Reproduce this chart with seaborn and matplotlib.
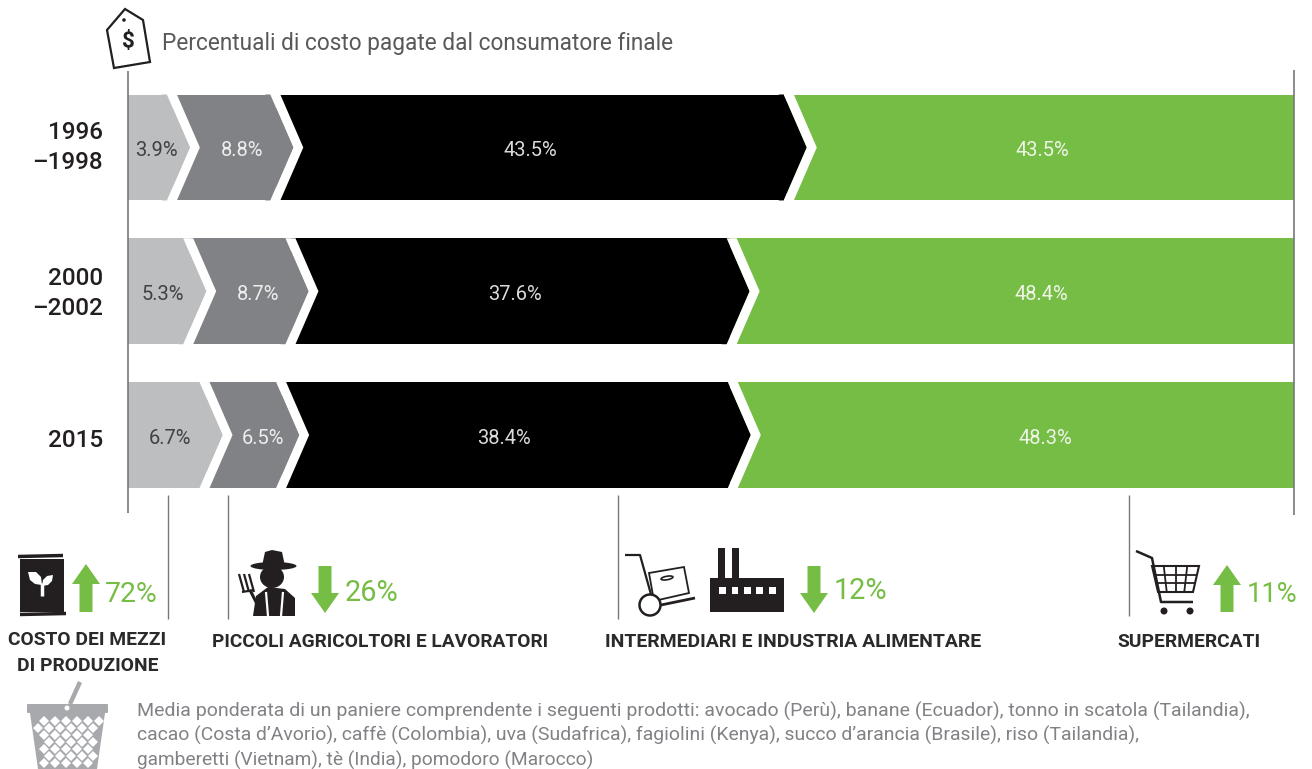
import numpy as np
import matplotlib
matplotlib.use("Agg")
import matplotlib.pyplot as plt
from matplotlib.patches import Polygon, Rectangle, Circle, Ellipse, FancyBboxPatch
import seaborn as sns

periods = ["1996\n–1998", "2000\n–2002", "2015"]
mezzi = [3.9, 5.3, 6.7]
agricoltori = [8.8, 8.7, 6.5]
intermediari = [43.5, 37.6, 38.4]
supermercati = [43.5, 48.4, 48.3]

title = "Percentuali di costo pagate dal consumatore finale"
changes = ["72%", "26%", "12%", "11%"]
note_lines = [
    "Media ponderata di un paniere comprendente i seguenti prodotti: avocado (Perù), banane (Ecuador), tonno in scatola (Tailandia),",
    "cacao (Costa d’Avorio), caffè (Colombia), uva (Sudafrica), fagiolini (Kenya), succo d’arancia (Brasile), riso (Tailandia),",
    "gamberetti (Vietnam), tè (India), pomodoro (Marocco)",
]

C_LIGHT, C_MID, C_BLACK, C_GREEN = "#bcbec0", "#808285", "#000000", "#76bd45"
C_AXIS, C_INK = "#77787b", "#231f20"

sns.set_theme(style="white")
plt.rcParams["font.family"] = ["Roboto", "DejaVu Sans"]

W, H = 1312, 769
fig = plt.figure(figsize=(W / 100, H / 100), dpi=100, facecolor="white")

# main bars
AL, AR, AT, AB = 128, 1294, 75.6, 506.9
ax = fig.add_axes([AL / W, 1 - AB / H, (AR - AL) / W, (AB - AT) / H])
series = [mezzi, agricoltori, intermediari, supermercati]
colors = [C_LIGHT, C_MID, C_BLACK, C_GREEN]
BAR_W = 0.737
m, a, i_, s = (np.array(v) for v in series)
starts = [np.zeros(3), m, m + a, 100 - s]  # the green segment runs to the right edge
for vals, left, col in zip(series, starts, colors):
    sns.barplot(x=vals, y=periods, left=left, color=col, saturation=1, width=BAR_W,
                orient="h", ax=ax, linewidth=0, zorder=2)
ax.set_xlim(0, 100)
ax.set_ylim(2.5, -0.5)
ax.axis("off")

# chevron boundaries
px = 100 / (AR - AL)
gap, depth = 5 * px, 23 * px
bounds = [m - 1.6 * px, m + a - 0.8 * px, 100 - s + 2 * px]
for k, b in enumerate(bounds):
    for r in range(3):
        t, bt, mid = r - BAR_W / 2, r + BAR_W / 2, float(r)
        x = b[r]
        ax.add_patch(Polygon([(x - gap - 5 * px, t), (x - gap, t), (x - gap + depth, mid), (x - gap, bt),
                              (x - gap - 5 * px, bt)],
                             closed=True, fc=colors[k], ec="none", zorder=3))
        ax.add_patch(Polygon([(x - gap, t), (x + gap, t), (x + gap + depth, mid), (x + gap, bt),
                              (x - gap, bt), (x - gap + depth, mid)],
                             closed=True, fc="white", ec="none", zorder=4))

# overlay in image pixels
ov = fig.add_axes([0, 0, 1, 1], zorder=5)
ov.set_xlim(0, W); ov.set_ylim(H, 0); ov.axis("off"); ov.patch.set_alpha(0)
rend = fig.canvas.get_renderer()


def fit(x0, x1, y, s_, color=C_INK, weight="normal", size=14):
    t = ov.text(x0, y, s_, ha="left", va="center_baseline", color=color, fontweight=weight, fontsize=size)
    w = t.get_window_extent(rend).width
    t.set_fontsize(size * (x1 - x0) / w)
    return t


def line(xs, ys, c=C_INK, lw=1.5, **kw):
    ov.plot(xs, ys, color=c, lw=lw, solid_capstyle=kw.pop("cap", "butt"), **kw)


# axis and leader lines
line([128, 128], [71, 513], C_AXIS, 1.2)
line([1294, 1294], [70, 515], C_AXIS, 1.2)
for x, y1 in [(168, 619), (228, 619), (618, 619), (1129, 616)]:
    line([x, x], [495, y1], C_AXIS, 1.0)

# title + tag
fit(162, 676, 41, title, "#58595b")
ov.add_patch(Polygon([(107, 30), (125, 9), (143, 20), (150, 62), (114, 68)], closed=True,
                     fc="white", ec=C_INK, lw=1.6, joinstyle="miter"))
ov.add_patch(Circle((124, 20), 1.8, fc=C_INK, ec="none"))
ov.text(128.5, 42, "$", ha="center", va="center", fontsize=16, fontweight="bold", color=C_INK)

# period labels
for lab, yy in [("1996", 130), ("–1998", 160), ("2000", 276), ("–2002", 306), ("2015", 438)]:
    ov.text(103, yy, lab, ha="right", va="center_baseline", fontsize=17.5, color=C_INK, fontweight="medium")

# value labels
label_x = [[156, 163, 170], [242, 258, 263], [530, 515, 504], [1042, 1041, 1045]]
label_c = ["#414042", "#eeeeef", "#d9dadb", "#eef5e8"]
label_y = [148, 293, 437]
for ser, xs, c in zip(series, label_x, label_c):
    for v, x, y in zip(ser, xs, label_y):
        ov.text(x, y, f"{v}%", ha="center", va="center_baseline", fontsize=14.5, color=c)


# arrows
def arrow(x0, x1, top, bot, up=True):
    xm = (x0 + x1) / 2
    hw = 6.5
    if up:
        pts = [(xm, top), (x1, top + 20), (xm + hw, top + 20), (xm + hw, bot), (xm - hw, bot), (xm - hw, top + 20), (x0, top + 20)]
    else:
        pts = [(xm, bot), (x1, bot - 20), (xm + hw, bot - 20), (xm + hw, top), (xm - hw, top), (xm - hw, bot - 20), (x0, bot - 20)]
    ov.add_patch(Polygon(pts, closed=True, fc=C_GREEN, ec="none"))


arrow(72, 100, 564, 612, True)
arrow(311, 339, 566, 613, False)
arrow(800, 828, 566, 613, False)
arrow(1213, 1241, 565, 612, True)
for (x0, x1, y), s_ in zip([(105, 158, 592), (345, 399, 590), (834, 888, 588), (1247, 1298, 591)], changes):
    fit(x0, x1, y, s_, C_GREEN)

# seed bag
ov.add_patch(Rectangle((20, 559), 44, 53, fc=C_INK, ec="none"))
line([18, 63], [556.5, 555.5], C_INK, 2.5)
line([20, 66], [614.5, 613.5], C_INK, 2.5)
ov.add_patch(Polygon([(28, 572), (36, 572), (41, 577), (42, 585), (35, 584), (30, 580)], closed=True, fc="white", ec="none"))
ov.add_patch(Polygon([(53, 575), (47, 576), (43, 580), (42, 586), (48, 585), (52, 581)], closed=True, fc="white", ec="none"))
line([42, 42], [583, 596], "white", 2.5)

# farmer
ov.add_patch(Ellipse((273.5, 566), 46, 8, fc=C_INK, ec="none"))
ov.add_patch(Polygon([(262, 566), (265, 552), (272, 550), (282, 552), (285, 566)], closed=True, fc=C_INK, ec="none"))
ov.add_patch(Ellipse((272, 577), 24, 22, fc=C_INK, ec="none"))
ov.add_patch(Polygon([(253, 616), (256, 596), (268, 587), (285, 589), (295, 598), (295, 616)], closed=True, fc=C_INK, ec="none"))
line([266, 268], [592, 616], "white", 1.6)
line([283, 281], [592, 616], "white", 1.6)
for xp in [239, 244, 249]:
    line([xp, xp + 5], [574, 592], C_INK, 1.6)
line([242, 254], [592, 590], C_INK, 1.6)
line([250, 258], [590, 606], C_INK, 2.2)

# trolley
line([625, 640, 652], [555, 555, 598], C_INK, 1.6)
ov.add_patch(Circle((650, 605), 10.5, fc="white", ec=C_INK, lw=1.8, zorder=3))
line([661, 695], [605, 598], C_INK, 2)
ov.add_patch(Polygon([(649, 573), (684, 567), (689, 593), (654, 601)], closed=True, fc="white", ec=C_INK, lw=1.3))
ov.add_patch(Ellipse((667, 578), 12, 3.5, angle=-10, fc="white", ec=C_INK, lw=1.2))

# factory
ov.add_patch(Rectangle((710, 578), 74, 33.5, fc=C_INK, ec="none"))
for x in [718, 732]:
    ov.add_patch(Rectangle((x, 548), 7, 31, fc=C_INK, ec="none"))
for x in [719, 731.5, 744, 756, 769]:
    ov.add_patch(Rectangle((x, 587), 6.5, 6.5, fc="white", ec="none"))

# cart
line([1136, 1152, 1161, 1193], [551, 558, 602, 602], C_INK, 1.8)
ov.add_patch(Polygon([(1152, 566), (1199, 566), (1193, 592), (1158, 592)], closed=True, fc="white", ec=C_INK, lw=1.5))
for f in [0.25, 0.5, 0.75]:
    line([1152 + 47 * f, 1158 + 35 * f], [566, 592], C_INK, 1.3)
for yy, xl, xr in [(574.5, 1154, 1197), (583, 1156, 1195)]:
    line([xl, xr], [yy, yy], C_INK, 1.3)
for x in [1164, 1190]:
    ov.add_patch(Circle((x, 611), 3.5, fc=C_INK, ec="none"))

# captions
CAP = "#2b2a2b"
fit(8, 167, 638, "COSTO DEI MEZZI", CAP, "bold")
fit(17, 159, 664, "DI PRODUZIONE", CAP, "bold")
fit(212, 550, 640, "PICCOLI AGRICOLTORI E LAVORATORI", CAP, "bold")
fit(605, 982, 640, "INTERMEDIARI E INDUSTRIA ALIMENTARE", CAP, "bold")
fit(1117, 1261, 640, "SUPERMERCATI", CAP, "bold")

# basket
C_B = "#a7a9ac"
line([80, 70], [682, 704], C_B, 3.2)
ov.add_patch(Polygon([(30, 713), (105, 713), (97, 769), (38, 769)], closed=True, fc=C_B, ec="none"))
ov.add_patch(FancyBboxPatch((28, 705), 79, 7, boxstyle="round,pad=1", fc=C_B, ec="none"))
ov.add_patch(Circle((67, 708), 2.5, fc="white", ec="none"))
for j, yy in enumerate(np.arange(721, 769, 7)):
    half = 33 - (yy - 713) * 0.14
    for xx in np.arange(32.5 + (j % 2) * 5.5, 104, 11):
        if abs(xx - 67.5) < half:
            ov.plot([xx], [yy], marker="D", ms=4.6, color="white", mew=0)

# note
ends = [1252, 1142, 595]
for s_, y, e in zip(note_lines, [709, 733, 758], ends):
    fit(137, e, y, s_, "#808285")

fig.savefig("out.png", dpi=100, facecolor="white")
